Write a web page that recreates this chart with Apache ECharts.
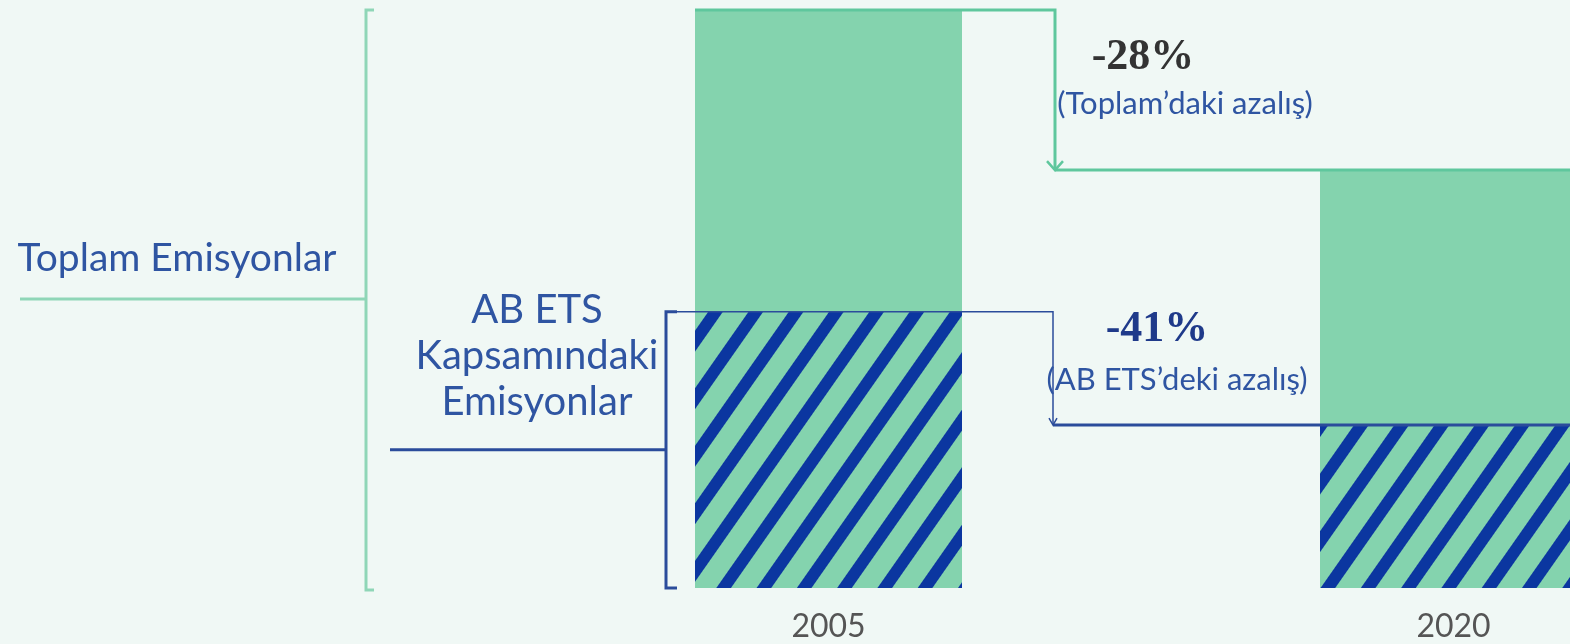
<!DOCTYPE html>
<html>
<head>
<meta charset="utf-8">
<script src="https://cdn.jsdelivr.net/npm/echarts@6/dist/echarts.min.js"></script>
<style>
  html, body { margin: 0; padding: 0; background: #f0f8f5; }
  #main { width: 1570px; height: 644px; }
</style>
</head>
<body>
<div id="main"></div>
<script>
// emisyon endeksi (2005 toplam = 100)
const categories = ['2005', '2020'];
const etsValues = [47.8, 28.2];     // AB ETS kapsamındaki
const otherValues = [52.2, 44.1];   // geri kalan
const totalLabel = 'Toplam Emisyonlar';
const etsLabel = 'AB ETS\nKapsamındaki\nEmisyonlar';
const totalNote = '(Toplam’daki azalış)';
const etsNote = '(AB ETS’deki azalış)';

const GREEN = '#84d3ae';
const GREEN_LINE = '#5fc79d';
const GREEN_BRACKET = '#8fd6b7';
const NAVY = '#0b36a0';
const NAVY_LINE = '#2b4c9b';
const TEXT_BLUE = '#2f55a2';
const BAR_W = 267;

const totals = etsValues.map((v, i) => v + otherValues[i]);
const pct = (a, b) => Math.round((b - a) / a * 100) + '%';

const chart = echarts.init(document.getElementById('main'));
chart.setOption({
  backgroundColor: '#f0f8f5',
  animation: false,
  grid: { left: 516, right: -196, top: 10, bottom: 56, outerBoundsMode: 'none', containLabel: false },
  xAxis: {
    type: 'category',
    data: categories,
    axisLine: { show: false },
    axisTick: { show: false },
    axisLabel: { color: '#555', fontFamily: 'Lato', fontSize: 32, margin: 23 }
  },
  yAxis: { type: 'value', min: 0, max: 100, show: false },
  series: [
    {
      name: 'AB ETS',
      type: 'bar',
      stack: 'e',
      barWidth: BAR_W,
      data: etsValues,
      itemStyle: {
        color: GREEN,
        decal: {
          symbol: 'rect',
          symbolSize: 1,
          color: NAVY,
          dashArrayX: [20, 0],
          dashArrayY: [12, 21],
          rotation: -0.96
        }
      }
    },
    {
      name: 'Diğer',
      type: 'bar',
      stack: 'e',
      barWidth: BAR_W,
      data: otherValues,
      itemStyle: { color: GREEN }
    }
  ]
});

// ek çizgiler ve yazılar
const px = (i, v) => chart.convertToPixel({ xAxisIndex: 0, yAxisIndex: 0 }, [i, v]);
const base = px(0, 0)[1];
const top05 = px(0, totals[0])[1];
const top20 = px(1, totals[1])[1];
const ets05 = px(0, etsValues[0])[1];
const ets20 = px(1, etsValues[1])[1];
const barL05 = px(0, 0)[0] - BAR_W / 2;
const W = chart.getWidth();

const gx = 366, nx = 666, arrowGX = 1055, arrowNX = 1053;

const line = (points, stroke, lw) => ({
  type: 'polyline', silent: true, z: 10,
  shape: { points },
  style: { stroke, lineWidth: lw, fill: null }
});
const text = (x, y, t, font, fill, lh) => ({
  type: 'text', silent: true, z: 11, x, y,
  style: { text: t, font, fill, align: 'center', verticalAlign: 'middle',
    textAlign: 'center', textVerticalAlign: 'middle', lineHeight: lh }
});

const gMid = (top05 + base) / 2;
const nMid = (ets05 + base) / 2;

chart.setOption({
  graphic: [
    // toplam parantezi
    line([[gx + 8, top05], [gx, top05], [gx, base + 2], [gx + 8, base + 2]], GREEN_BRACKET, 3),
    line([[20, gMid], [gx, gMid]], GREEN_BRACKET, 3),
    text(177, 258, totalLabel, '39px Lato', TEXT_BLUE),
    // ETS parantezi
    line([[nx + 11, ets05], [nx, ets05], [nx, base], [nx + 11, base]], NAVY_LINE, 3),
    line([[390, nMid], [nx, nMid]], NAVY_LINE, 3),
    text(537, 356, etsLabel, '40px Lato', TEXT_BLUE, 46),
    // toplam azalış oku
    line([[barL05, top05], [arrowGX, top05], [arrowGX, top20]], GREEN_LINE, 3),
    line([[arrowGX, top20], [W, top20]], GREEN_LINE, 3),
    line([[arrowGX - 8, top20 - 9], [arrowGX, top20], [arrowGX + 8, top20 - 9]], GREEN_LINE, 2.5),
    text(1143, 58, pct(totals[0], totals[1]), 'bold 44px "Liberation Serif"', '#333'),
    text(1185, 104, totalNote, '31px Lato', TEXT_BLUE),
    // ETS azalış oku
    line([[nx + 11, ets05], [arrowNX, ets05], [arrowNX, ets20]], NAVY_LINE, 1.5),
    line([[arrowNX, ets20], [W, ets20]], NAVY_LINE, 3),
    line([[arrowNX - 4, ets20 - 7], [arrowNX, ets20], [arrowNX + 4, ets20 - 7]], NAVY_LINE, 1.5),
    text(1157, 330, pct(etsValues[0], etsValues[1]), 'bold 44px "Liberation Serif"', '#1f3a8a'),
    text(1177, 380, etsNote, '31px Lato', TEXT_BLUE)
  ]
});
</script>
</body>
</html>
